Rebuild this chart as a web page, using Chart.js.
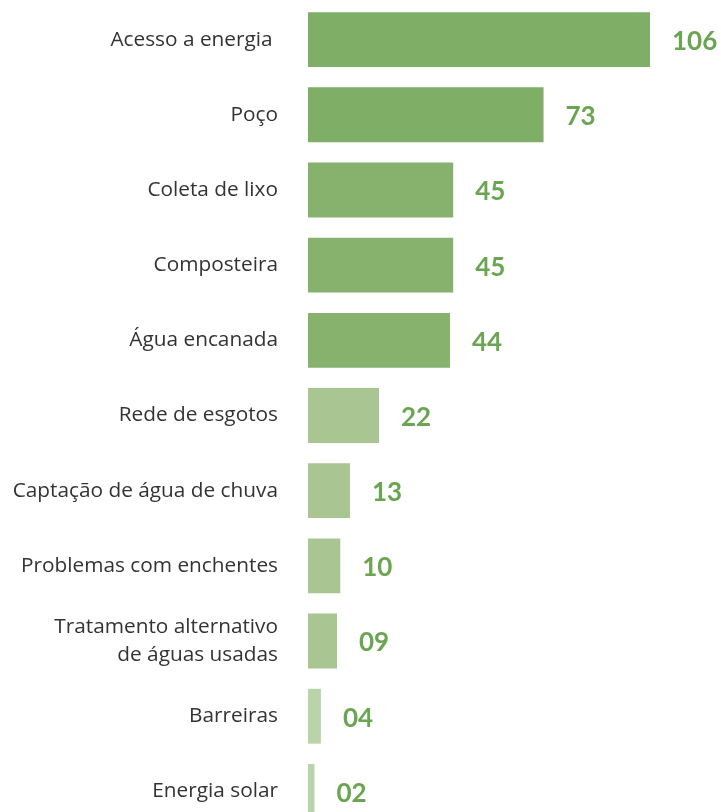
<!DOCTYPE html>
<html>
<head>
<meta charset="utf-8">
<script src="https://cdn.jsdelivr.net/npm/chart.js@4.4.0/dist/chart.umd.min.js"></script>
<style>
  html, body { margin: 0; padding: 0; background: #fff; overflow: hidden; }
  #wrap { position: relative; width: 721px; height: 829px; }
</style>
</head>
<body>
<div id="wrap"><canvas id="chart"></canvas></div>
<script>
const categories = [
    "Acesso a energia ",
    "Poço",
    "Coleta de lixo",
    "Composteira",
    "Água encanada",
    "Rede de esgotos",
    "Captação de água de chuva",
    "Problemas com enchentes",
    ["Tratamento alternativo", "de águas usadas"],
    "Barreiras",
    "Energia solar"
];
const values = [106, 73, 45, 45, 44, 22, 13, 10, 9, 4, 2];
const barColors = [
    "#7fae66", "#7fae66", "#86b26d", "#86b26d", "#86b26d",
    "#a8c592", "#a8c592", "#a8c592", "#a8c592",
    "#bad4aa", "#bad4aa"
];

// value labels to the right of each bar
const valueLabels = {
    id: "valueLabels",
    afterDatasetsDraw(chart) {
        const ctx = chart.ctx;
        const meta = chart.getDatasetMeta(0);
        ctx.save();
        ctx.font = "bold 26px Lato";
        ctx.fillStyle = "#6aa552";
        ctx.textAlign = "left";
        ctx.textBaseline = "middle";
        meta.data.forEach((bar, i) => {
            const txt = String(values[i]).padStart(2, "0");
            ctx.fillText(txt, bar.x + 22, bar.y + 2);
        });
        ctx.restore();
    }
};

new Chart(document.getElementById("chart"), {
    type: "bar",
    data: {
        labels: categories,
        datasets: [{
            data: values,
            backgroundColor: barColors,
            borderWidth: 0,
            barPercentage: 0.73,
            categoryPercentage: 1
        }]
    },
    options: {
        indexAxis: "y",
        responsive: true,
        maintainAspectRatio: false,
        animation: false,
        layout: { padding: { top: 2, right: 0, left: 0, bottom: 0 } },
        plugins: {
            legend: { display: false },
            tooltip: { enabled: false }
        },
        scales: {
            x: {
                display: false,
                min: 0,
                max: 128
            },
            y: {
                grid: { display: false, drawTicks: false },
                border: { display: false },
                ticks: {
                    color: "#333333",
                    padding: 30,
                    font: { family: "Open Sans", size: 20.8, lineHeight: 1.35 }
                },
                afterFit(scale) {
                    scale.width = 308;
                    scale.paddingTop = 0;
                    scale.paddingBottom = 0;
                }
            }
        }
    },
    plugins: [valueLabels]
});
</script>
</body>
</html>
